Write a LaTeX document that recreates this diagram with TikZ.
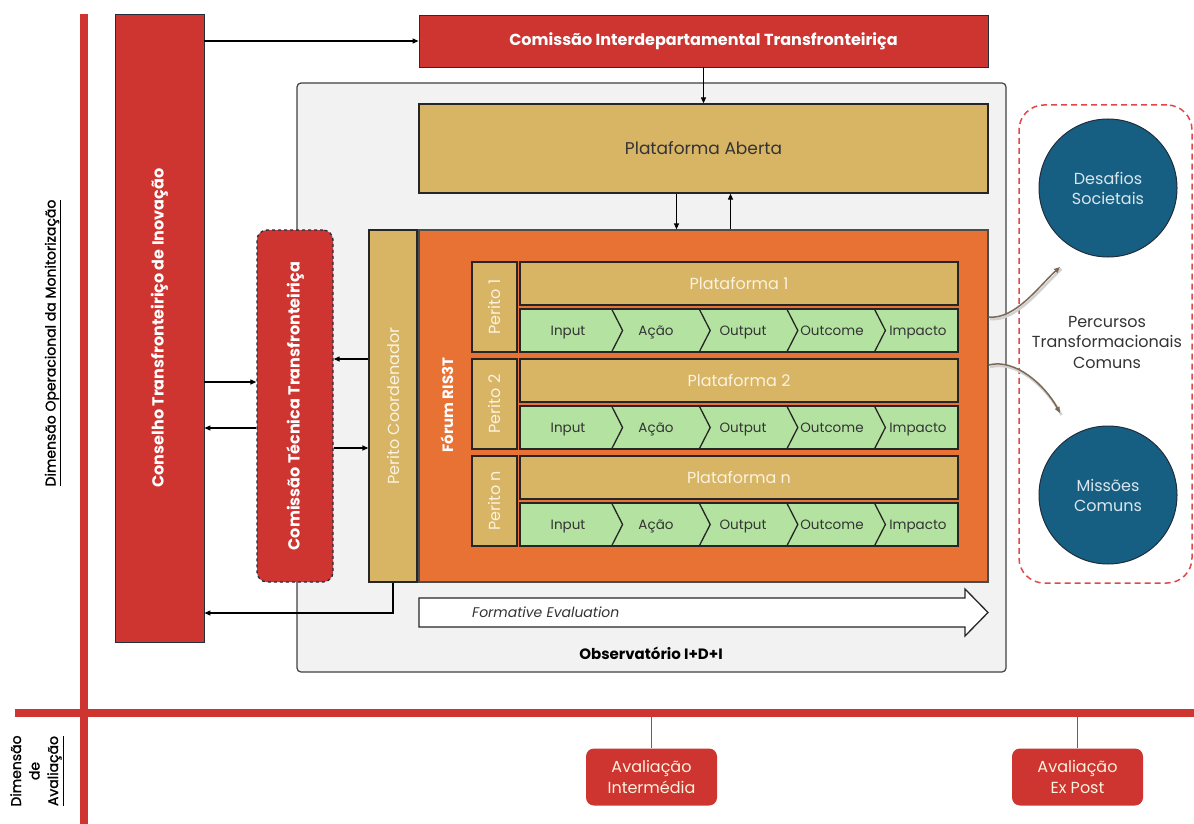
\documentclass[tikz,border=0pt]{standalone}
\usepackage{fontspec}
\setmainfont{Poppins}
\newfontfamily\medfont[FakeBold=1.4]{Poppins}
\usetikzlibrary{arrows.meta,calc}

\definecolor{cred}{HTML}{CE3430}
\definecolor{cdash}{HTML}{E2464A}
\definecolor{ctan}{HTML}{D8B465}
\definecolor{corange}{HTML}{E87234}
\definecolor{cgreen}{HTML}{B3E2A1}
\definecolor{cteal}{HTML}{175F82}
\definecolor{cgray}{HTML}{F2F2F2}
\definecolor{cnavy}{HTML}{1F2D3D}
\definecolor{ccream}{HTML}{FBF3DF}
\definecolor{clight}{HTML}{D9E6EE}
\definecolor{cbrown}{HTML}{7C6A56}
\definecolor{ctext}{HTML}{333333}

\newcommand\fsz[2]{\fontsize{#1pt}{#2pt}\selectfont}

\begin{document}
\begin{tikzpicture}[x=1pt,y=-1pt,
  redbox/.style={rectangle, fill=cred, draw=cnavy, line width=0.9pt, inner sep=0pt},
  tanbox/.style={rectangle, fill=ctan, draw=black!85, line width=1.3pt, inner sep=0pt},
  greenrow/.style={rectangle, fill=cgreen, draw=black!85, line width=1.3pt, inner sep=0pt},
  whitebold/.style={text=white, font=\fsz{16}{19}\bfseries},
  creamtxt/.style={text=ccream, font=\fsz{16}{19}},
  chevtxt/.style={text=ctext, font=\fsz{13.5}{16}, inner sep=0pt, anchor=base},
  arr/.style={-{Triangle[length=6pt,width=5pt]}, line width=1.2pt, black},
  curv/.style={-{Triangle[length=6pt,width=5pt]}, line width=1.5pt, cbrown},
  curvshadow/.style={line width=2.5pt, black!18},
  circ/.style={circle, fill=cteal, draw=cnavy, line width=1pt, minimum size=138pt,
    text=clight, align=center, font=\fsz{16}{20}},
  evalbox/.style={rectangle, rounded corners=8pt, fill=cred, minimum width=131pt,
    minimum height=57pt, text=ccream, align=center, font=\fsz{16}{21}},
  redaxis/.style={cred, line width=8pt}
]
\useasboundingbox (0,0) rectangle (1194,824);

% axes of the two dimensions
\draw[redaxis] (84,14) -- (84,824);
\draw[redaxis] (15,713) -- (1194,713);
\coordinate (hl) at (0,713);

\node[rotate=90, font=\fsz{14}{17}\medfont, text=black] (dimop) at (53,343)
  {\underline{Dimensão Operacional da Monitorização}};
\node[rotate=90, font=\fsz{14}{18.5}\medfont, text=black, align=center] (dimav) at (37,771)
  {Dimensão\\de\\\underline{Avaliação}};

% observatory container
\node[rectangle, rounded corners=4pt, fill=cgray, draw=black!75, line width=1.2pt,
  minimum width=709pt, minimum height=589pt] (obs) at (651.5,377.5) {};
\node[font=\fsz{15}{18}\bfseries, text=black] (obs-t) at (651,653) {Observatório I+D+I};

% council and commissions
\node[redbox, minimum width=89pt, minimum height=628pt] (cons) at (159.5,328) {};
\node[rotate=90, whitebold] (cons-t) at (cons.center) {Conselho Transfronteiriço de Inovação};

\node[redbox, minimum width=569pt, minimum height=52pt, whitebold] (cit) at (703.5,41)
  {Comissão Interdepartamental Transfronteiriça};

\node[rectangle, rounded corners=10pt, fill=cred, draw=cnavy, dashed, line width=1.3pt,
  minimum width=76pt, minimum height=352pt] (ct) at (295,406) {};
\node[rotate=90, whitebold] (ct-t) at (ct.center) {Comissão Técnica Transfronteiriça};

% open platform, coordinator and forum
\node[tanbox, minimum width=569pt, minimum height=89pt, text=ctext, font=\fsz{17}{20}]
  (pa) at (703.5,148.5) {Plataforma Aberta};

\node[tanbox, minimum width=48pt, minimum height=352pt] (pc) at (393,406) {};
\node[rotate=90, creamtxt] (pc-t) at (pc.center) {Perito Coordenador};

\node[rectangle, fill=corange, draw=black!70, line width=1.2pt, inner sep=0pt,
  minimum width=569pt, minimum height=352pt] (forum) at (703.5,406) {};
\node[rotate=90, text=white, font=\fsz{15}{18}\bfseries] (forum-t) at (447,405) {Fórum RIS3T};

% thematic platforms with their value chains
\foreach \i/\y/\lab in {1/262/1, 2/359/2, 3/456/n} {
  \node[tanbox, minimum width=45pt, minimum height=90pt] (per\i) at (494.5,\y+45) {};
  \node[rotate=90, creamtxt] (per\i-t) at (per\i.center) {Perito \lab};
  \node[tanbox, minimum width=438pt, minimum height=43pt, creamtxt] (pl\i) at (739,\y+21.5)
    {Plataforma \lab};
  \node[greenrow, minimum width=438pt, minimum height=43pt] (ch\i) at (739,\y+68.5) {};
  \foreach \k in {1,...,4} {
    \draw[black!85, line width=1.3pt, line join=miter]
      ({524+\k*87.6},\y+47) -- ({535+\k*87.6},\y+68.5) -- ({524+\k*87.6},\y+90);
  }
  \foreach \k/\t/\cx in {0/Input/568, 1/Ação/656, 2/Output/743, 3/Outcome/832, 4/Impacto/918} {
    \node[chevtxt] (ch\i-\k) at (\cx,\y+73.5) {\t};
  }
}

% formative evaluation arrow
\draw[fill=white, draw=black!85, line width=1.3pt, line join=miter]
  (419,598) -- (965,598) -- (965,589) -- (988,612.5) -- (965,636) -- (965,627) -- (419,627) -- cycle;
\node[anchor=west, text=ctext, font=\fsz{14}{17}\itshape, inner sep=0pt] (fe-t) at (472,612)
  {Formative Evaluation};

% connectors
\draw[arr] (cons.east |- cit.west) -- (cit.west);
\draw[arr] (cit.south) -- (pa.north);
\draw[arr] ([xshift=-27pt]pa.south) -- ([xshift=-27pt]forum.north);
\draw[arr] ([xshift=27pt]forum.north) -- ([xshift=27pt]pa.south);
\draw[arr] ([yshift=24pt]ct.west -| cons.east) -- ([yshift=24pt]ct.west);
\draw[arr] ([yshift=-22pt]ct.west) -- ([yshift=-22pt]ct.west -| cons.east);
\draw[arr] ([yshift=47pt]pc.west) -- ([yshift=47pt]pc.west -| ct.east);
\draw[arr] ([yshift=-42pt]ct.east) -- ([yshift=-42pt]ct.east -| pc.west);
\coordinate (ret) at (393,613);
\draw[arr] (pc.south) -- (ret) -- (cons.east |- ret);

% common transformation paths
\node[rectangle, rounded corners=25pt, draw=cdash, dashed, dash pattern=on 6pt off 4pt,
  line width=1.5pt, minimum width=173pt, minimum height=478pt] (paths) at (1105.5,344) {};
\node[circ] (ds) at (1108,188) {Desafios\\Societais};
\node[circ] (mc) at (1108,495) {Missões\\Comuns};
\node[text=ctext, align=center, font=\fsz{16}{20.5}] (pt) at (1107,342)
  {Percursos\\Transformacionais\\Comuns};

\coordinate (p1) at (1060,267);
\coordinate (p2) at (1060,413);
\draw[curvshadow] ([shift={(1.5pt,-2pt)}]forum.east |- 0,317) .. controls (1016.5,322) and (1041.5,287) .. (1061.5,269);
\draw[curvshadow] ([shift={(1.5pt,-2pt)}]forum.east |- 0,365) .. controls (1016.5,360) and (1046.5,387) .. (1061.5,415);
\draw[curv] ([yshift=89pt]forum.east) .. controls (1015,320) and (1040,285) .. (p1);
\draw[curv] ([yshift=41pt]forum.east) .. controls (1015,358) and (1045,385) .. (p2);

% evaluation moments
\node[evalbox] (ai) at (651.5,777) {Avaliação\\Intermédia};
\node[evalbox] (ep) at (1077.5,777) {Avaliação\\Ex Post};
\draw[cred, line width=1.5pt] (ai.north) -- (ai.north |- hl);
\draw[cred, line width=1.5pt] (ep.north) -- (ep.north |- hl);
\end{tikzpicture}
\end{document}
